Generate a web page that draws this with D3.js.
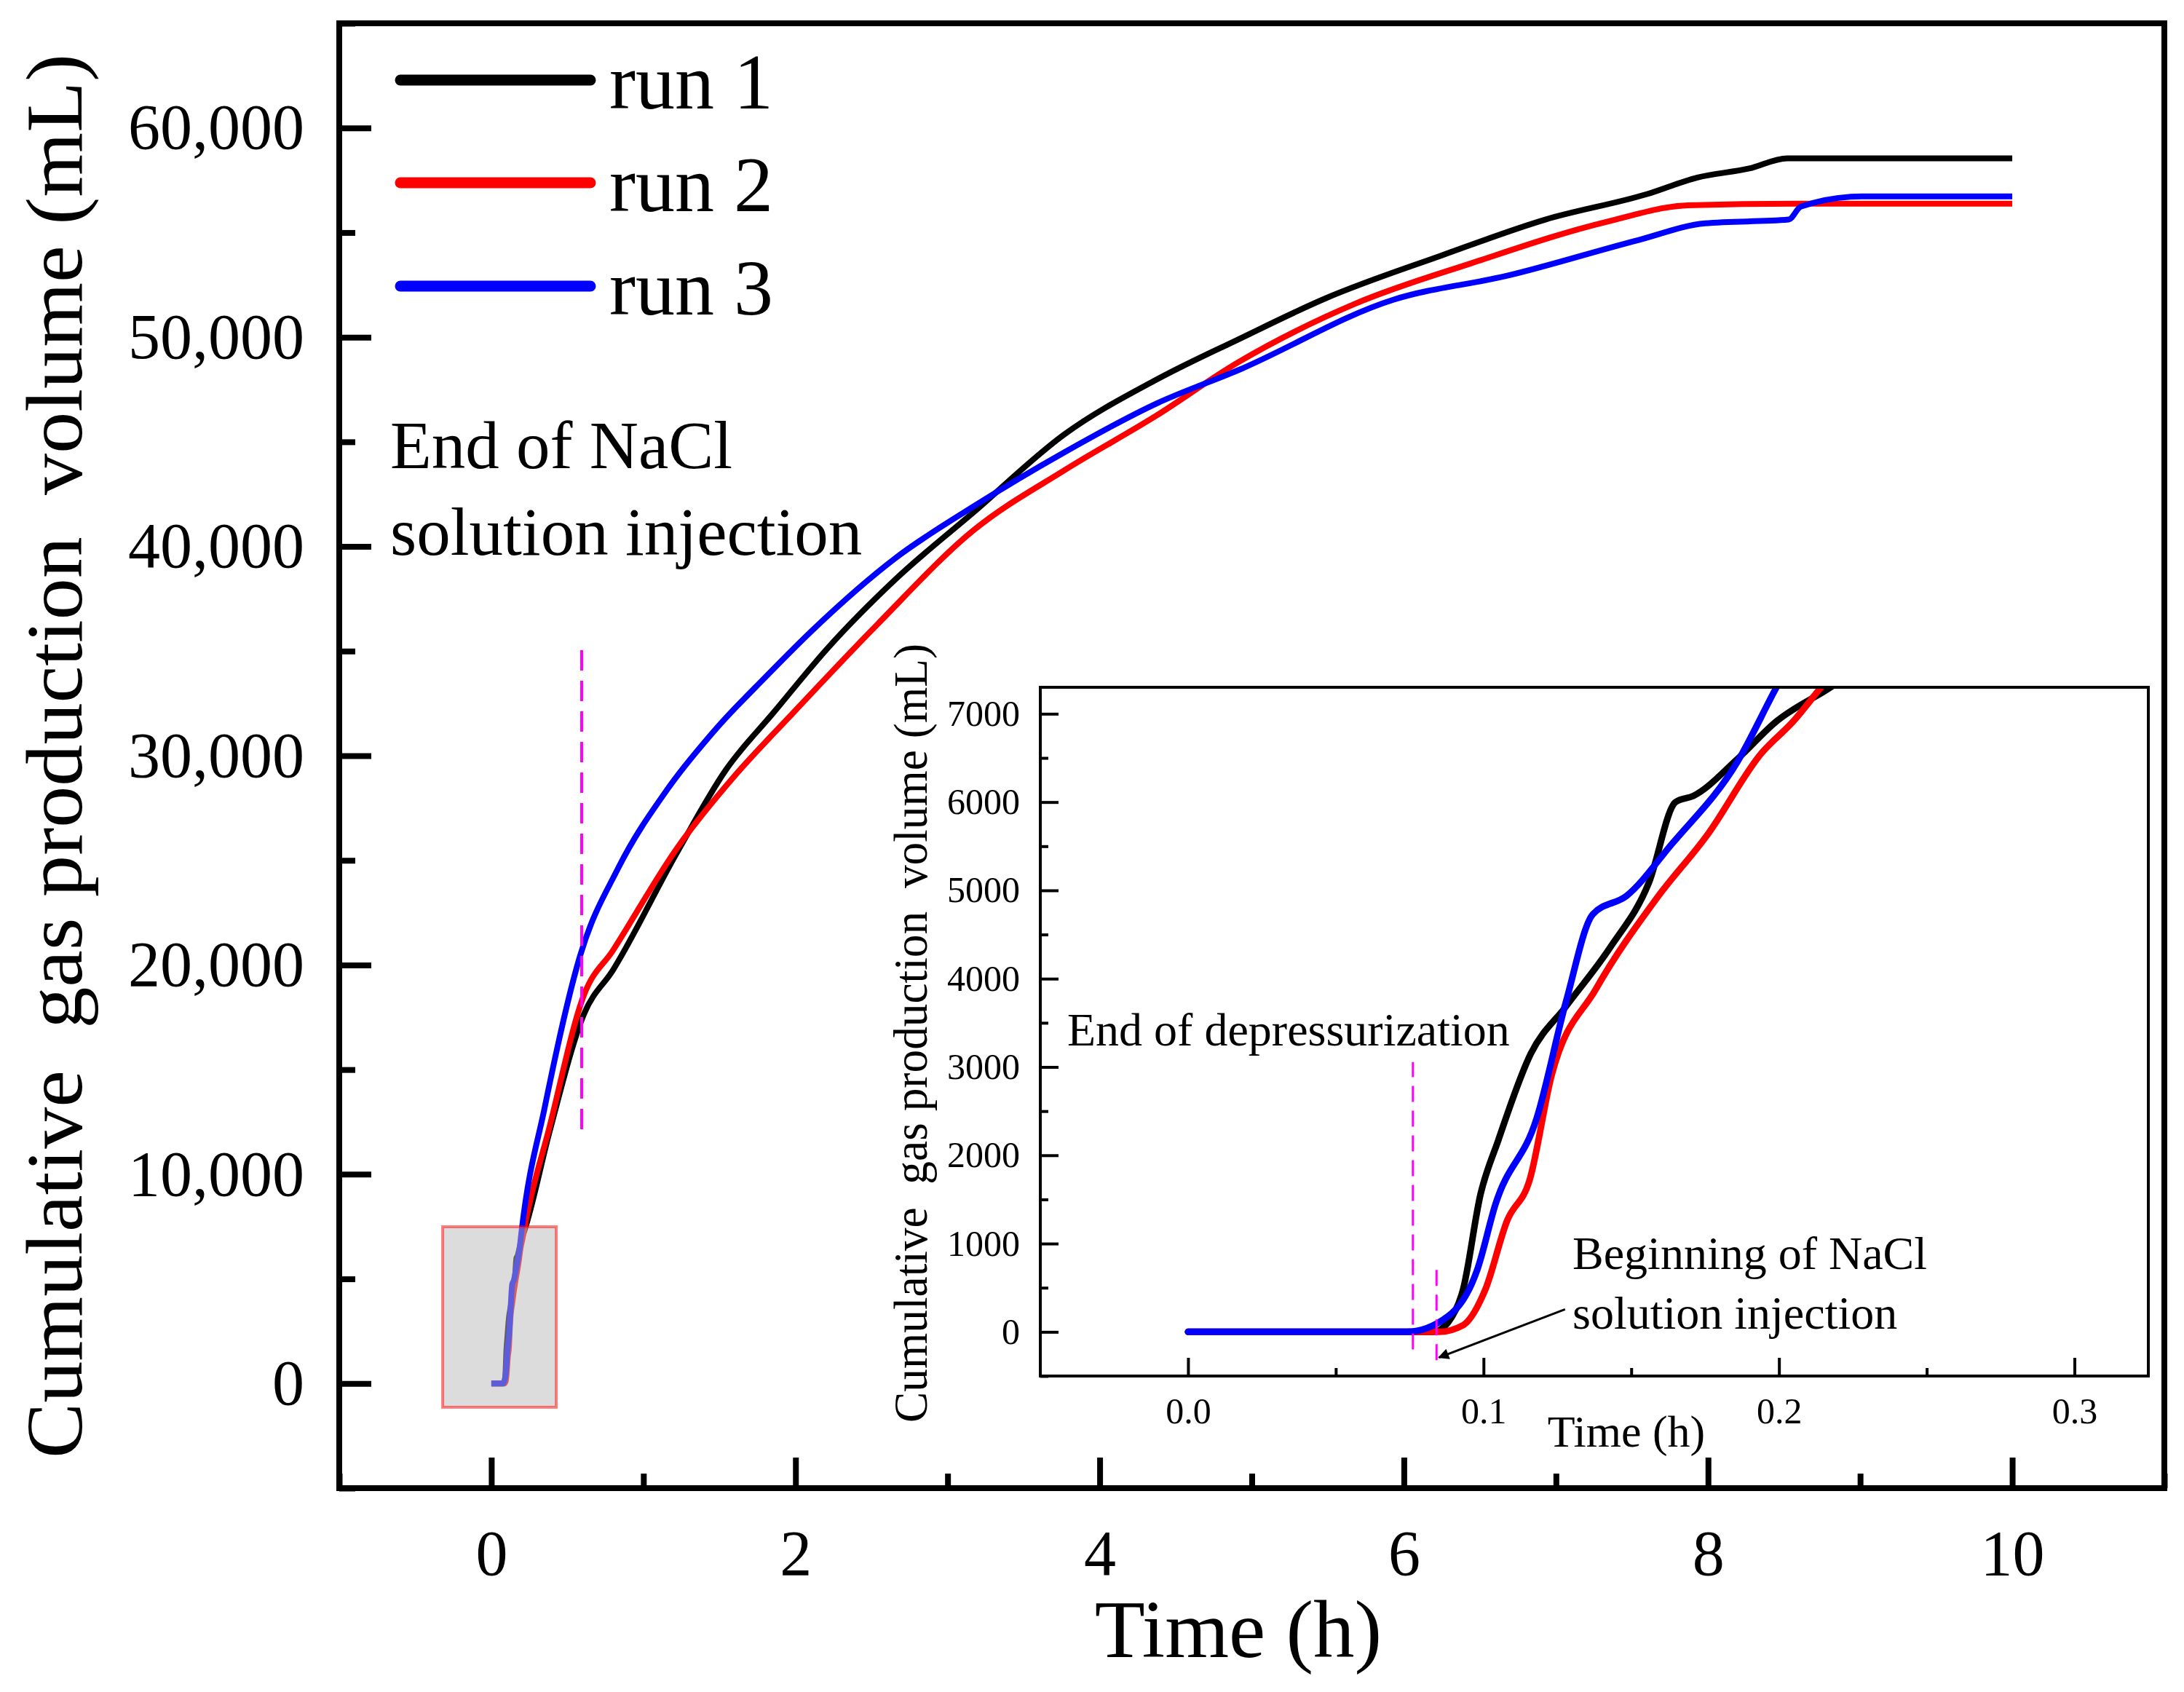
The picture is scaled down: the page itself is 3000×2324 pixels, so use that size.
<!DOCTYPE html>
<html>
<head>
<meta charset="utf-8">
<script src="https://cdn.jsdelivr.net/npm/d3@7"></script>
<style>
  html, body { margin: 0; padding: 0; background: #fff; }
  svg { display: block; }
  text { font-family: "Liberation Serif", "Times New Roman", serif; fill: #000; }
</style>
</head>
<body>
<svg id="chart" width="3000" height="2324"></svg>
<script>
// ---------------- data ----------------
const seriesNames = ["run 1", "run 2", "run 3"];
const seriesColors = ["#000000", "#ff0000", "#0000ff"];

const run1Time = [0, 0.083, 0.088, 0.093, 0.099, 0.105, 0.116, 0.128, 0.143, 0.156, 0.165, 0.171, 0.186, 0.199, 0.217, 0.384, 0.61, 0.80, 1.22, 1.54, 1.86, 2.21, 2.66, 3.17, 3.77, 4.37, 4.91, 5.48, 6.25, 6.93, 7.60, 7.93, 8.27, 8.52, 10.0];
const run1Vol  = [0, 0, 107, 470, 1560, 2170, 3150, 3690, 4360, 5090, 6000, 6070, 6490, 6910, 7290, 12070, 17670, 19760, 25360, 29300, 32100, 35130, 38450, 41630, 45370, 47960, 49890, 51840, 53910, 55620, 56840, 57630, 58060, 58550, 58550];

const run2Time = [0, 0.085, 0.093, 0.1005, 0.108, 0.1156, 0.123, 0.138, 0.1586, 0.176, 0.194, 0.205, 0.214, 0.384, 0.61, 0.80, 1.22, 1.605, 1.96, 2.54, 3.17, 3.77, 4.37, 4.91, 5.68, 6.45, 7.33, 7.87, 8.59, 10.0];
const run2Vol  = [0, 0, 74, 470, 1260, 1720, 2900, 3880, 4910, 5640, 6550, 6920, 7290, 12300, 18590, 20700, 25575, 29080, 31860, 36290, 40770, 43650, 46240, 48800, 51600, 53550, 55510, 56300, 56380, 56380];

const run3Time = [0, 0.074, 0.088, 0.098, 0.104, 0.118, 0.128, 0.137, 0.1485, 0.1636, 0.186, 0.199, 0.352, 0.584, 0.835, 1.156, 1.477, 1.80, 2.12, 2.66, 3.17, 3.77, 4.37, 4.91, 5.93, 6.68, 7.54, 7.98, 8.53, 8.61, 9.01, 10.0];
const run3Vol  = [0, 0, 177, 715, 1440, 2420, 3750, 4730, 4940, 5520, 6460, 7290, 13230, 20450, 24640, 28380, 31280, 33740, 36060, 39460, 41910, 44510, 46820, 48420, 51790, 52940, 54640, 55440, 55620, 56240, 56730, 56730];

const mainXTicks = [0, 2, 4, 6, 8, 10];
const mainXMinor = [-1, 1, 3, 5, 7, 9, 11];
const mainYTicks = [0, 10000, 20000, 30000, 40000, 50000, 60000];
const mainYMinor = [-5000, 5000, 15000, 25000, 35000, 45000, 55000, 65000];
const insetXTicks = [0, 0.1, 0.2, 0.3];
const insetXMinor = [0.05, 0.15, 0.25];
const insetYTicks = [0, 1000, 2000, 3000, 4000, 5000, 6000, 7000];
const insetYMinor = [-500, 500, 1500, 2500, 3500, 4500, 5500, 6500];

const yTitle = "Cumulative  gas production  volume (mL)";
const xTitle = "Time (h)";
const mainNote = ["End of NaCl", "solution injection"];
const insetNote1 = "End of depressurization";
const insetNote2 = ["Beginning of NaCl", "solution injection"];

// annotation anchors (data units)
const mainDashT = 0.594, mainDashV = [12150, 35050];
const zoomBoxT = [-0.32, 0.427], zoomBoxV = [-1135, 7490];
const insetDash1T = 0.0761, insetDash1V = [-200, 3055];
const insetDash2T = 0.0841, insetDash2V = [-320, 773];
const arrowFrom = [0.1276, 255], arrowTo = [0.0849, -290];

// ---------------- build ----------------
const runs = [
  run1Time.map((t, i) => ({t, v: run1Vol[i]})),
  run2Time.map((t, i) => ({t, v: run2Vol[i]})),
  run3Time.map((t, i) => ({t, v: run3Vol[i]}))
];

const svg = d3.select("#chart");
svg.append("rect").attr("width", 3000).attr("height", 2324).attr("fill", "#fff");

// main plot area
const M = {l: 466, r: 2973, t: 32, b: 2044};
const x = d3.scaleLinear().domain([-1, 11]).range([M.l, M.r]);
const y = d3.scaleLinear().domain([-5000, 65000]).range([M.b, M.t]);

function styleAxis(g, w, fs) {
  g.select(".domain").remove();
  g.selectAll(".tick line").attr("stroke", "#000").attr("stroke-width", w);
  g.selectAll(".tick text").attr("font-size", fs).attr("fill", "#000")
    .style("font-family", '"Liberation Serif", "Times New Roman", serif');
}

// main axes
svg.append("g").attr("transform", `translate(${M.l},0)`)
  .call(d3.axisLeft(y).tickValues(mainYTicks).tickFormat(d3.format(",")).tickSize(-44).tickPadding(48))
  .call(g => styleAxis(g, 8, 88));
svg.append("g").attr("transform", `translate(${M.l},0)`)
  .call(d3.axisLeft(y).tickValues(mainYMinor).tickFormat("").tickSize(-22))
  .call(g => styleAxis(g, 8, 88));
svg.append("g").attr("transform", `translate(0,${M.b})`)
  .call(d3.axisBottom(x).tickValues(mainXTicks).tickFormat(d3.format("d")).tickSize(-42).tickPadding(57))
  .call(g => styleAxis(g, 8, 88));
svg.append("g").attr("transform", `translate(0,${M.b})`)
  .call(d3.axisBottom(x).tickValues(mainXMinor).tickFormat("").tickSize(-20))
  .call(g => styleAxis(g, 8, 88));

// main lines
const line = d3.line().x(d => x(d.t)).y(d => y(d.v)).curve(d3.curveMonotoneX);
runs.forEach((r, i) => {
  svg.append("path").datum(r).attr("d", line)
    .attr("fill", "none").attr("stroke", seriesColors[i])
    .attr("stroke-width", 8).attr("stroke-linejoin", "round");
});

// magenta dashed line in main
svg.append("line")
  .attr("x1", x(mainDashT)).attr("x2", x(mainDashT))
  .attr("y1", y(mainDashV[0])).attr("y2", y(mainDashV[1]))
  .attr("stroke", "#ff00ff").attr("stroke-width", 4).attr("stroke-dasharray", "28,14");

// zoom box (semi transparent over lines)
svg.append("rect")
  .attr("x", x(zoomBoxT[0])).attr("y", y(zoomBoxV[1]))
  .attr("width", x(zoomBoxT[1]) - x(zoomBoxT[0]))
  .attr("height", y(zoomBoxV[0]) - y(zoomBoxV[1]))
  .attr("fill", "#b9b9b9").attr("fill-opacity", 0.5)
  .attr("stroke", "#ff0000").attr("stroke-opacity", 0.5).attr("stroke-width", 4);

// main frame
svg.append("rect").attr("x", M.l).attr("y", M.t).attr("width", M.r - M.l).attr("height", M.b - M.t)
  .attr("fill", "none").attr("stroke", "#000").attr("stroke-width", 8);

// main titles
svg.append("text").attr("transform", `translate(112,${(74 + 2003) / 2}) rotate(-90)`)
  .attr("text-anchor", "middle").attr("font-size", 110).style("white-space", "pre")
  .attr("textLength", 1929).attr("lengthAdjust", "spacingAndGlyphs").text(yTitle);
svg.append("text").attr("x", 1701).attr("y", 2276).attr("text-anchor", "middle")
  .attr("font-size", 113).text(xTitle);

// legend
const legendY = [110, 251, 393];
seriesNames.forEach((n, i) => {
  svg.append("line").attr("x1", 550).attr("x2", 811).attr("y1", legendY[i]).attr("y2", legendY[i])
    .attr("stroke", seriesColors[i]).attr("stroke-width", 15).attr("stroke-linecap", "round");
  svg.append("text").attr("x", 837).attr("y", legendY[i] + 39).attr("font-size", 108).text(n);
});

// main note
svg.append("text").attr("x", 536).attr("y", 643).attr("font-size", 93).text(mainNote[0]);
svg.append("text").attr("x", 536).attr("y", 762).attr("font-size", 93).text(mainNote[1]);

// ---------------- inset ----------------
const I = {l: 1429, r: 2951, t: 944, b: 1890};
const xi = d3.scaleLinear().domain([-0.05, 0.325]).range([I.l, I.r]);
const yi = d3.scaleLinear().domain([-500, 7300]).range([I.b, I.t]);

svg.append("rect").attr("x", I.l).attr("y", I.t).attr("width", I.r - I.l).attr("height", I.b - I.t)
  .attr("fill", "#fff");

svg.append("defs").append("clipPath").attr("id", "insetClip")
  .append("rect").attr("x", I.l).attr("y", I.t).attr("width", I.r - I.l).attr("height", I.b - I.t);

svg.append("g").attr("transform", `translate(${I.l},0)`)
  .call(d3.axisLeft(yi).tickValues(insetYTicks).tickFormat(d3.format("d")).tickSize(-25).tickPadding(28))
  .call(g => styleAxis(g, 4, 50));
svg.append("g").attr("transform", `translate(${I.l},0)`)
  .call(d3.axisLeft(yi).tickValues(insetYMinor).tickFormat("").tickSize(-11))
  .call(g => styleAxis(g, 4, 50));
svg.append("g").attr("transform", `translate(0,${I.b})`)
  .call(d3.axisBottom(xi).tickValues(insetXTicks).tickFormat(d3.format(".1f")).tickSize(-25).tickPadding(29))
  .call(g => styleAxis(g, 4, 50));
svg.append("g").attr("transform", `translate(0,${I.b})`)
  .call(d3.axisBottom(xi).tickValues(insetXMinor).tickFormat("").tickSize(-11))
  .call(g => styleAxis(g, 4, 50));

const lineI = d3.line().x(d => xi(d.t)).y(d => yi(d.v)).curve(d3.curveMonotoneX);
const gi = svg.append("g").attr("clip-path", "url(#insetClip)");
[0, 1, 2].forEach(i => {
  gi.append("path").datum(runs[i].filter(d => d.t <= 0.4)).attr("d", lineI)
    .attr("fill", "none").attr("stroke", seriesColors[i])
    .attr("stroke-width", 9).attr("stroke-linejoin", "round").attr("stroke-linecap", "round");
});

// inset dashed lines
[[insetDash1T, insetDash1V], [insetDash2T, insetDash2V]].forEach(([t, vv]) => {
  svg.append("line").attr("x1", xi(t)).attr("x2", xi(t)).attr("y1", yi(vv[0])).attr("y2", yi(vv[1]))
    .attr("stroke", "#ff00ff").attr("stroke-width", 3).attr("stroke-dasharray", "22,12");
});

// arrow
svg.select("defs").append("marker").attr("id", "arrow").attr("viewBox", "0 0 10 10")
  .attr("refX", 9).attr("refY", 5).attr("markerWidth", 7).attr("markerHeight", 5)
  .attr("markerUnits", "strokeWidth").attr("orient", "auto")
  .append("path").attr("d", "M0,0 L10,5 L0,10 z").attr("fill", "#000");
svg.append("line").attr("x1", xi(arrowFrom[0])).attr("y1", yi(arrowFrom[1]))
  .attr("x2", xi(arrowTo[0])).attr("y2", yi(arrowTo[1]))
  .attr("stroke", "#000").attr("stroke-width", 3).attr("marker-end", "url(#arrow)");

// inset frame
svg.append("rect").attr("x", I.l).attr("y", I.t).attr("width", I.r - I.l).attr("height", I.b - I.t)
  .attr("fill", "none").attr("stroke", "#000").attr("stroke-width", 4);

// inset texts
svg.append("text").attr("transform", `translate(1273,${(884 + 1954) / 2}) rotate(-90)`)
  .attr("text-anchor", "middle").attr("font-size", 66).style("white-space", "pre")
  .attr("textLength", 1070).attr("lengthAdjust", "spacingAndGlyphs").text(yTitle);
svg.append("text").attr("x", 2234).attr("y", 1987).attr("text-anchor", "middle")
  .attr("font-size", 62).text(xTitle);
svg.append("text").attr("x", 1466).attr("y", 1436).attr("font-size", 64).text(insetNote1);
svg.append("text").attr("x", 2160).attr("y", 1743).attr("font-size", 64).text(insetNote2[0]);
svg.append("text").attr("x", 2160).attr("y", 1825).attr("font-size", 64).text(insetNote2[1]);
</script>
</body>
</html>
